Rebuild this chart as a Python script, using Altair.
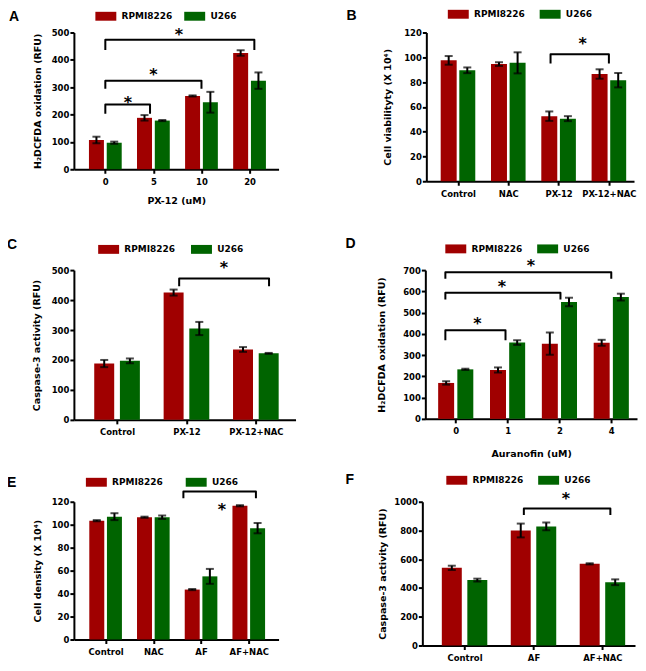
import json
import altair as alt
import pandas as pd

SERIES = ["RPMI8226", "U266"]
RED = "#A00000"
GREEN = "#006400"
FONT = "DejaVu Sans"
OFF = 0.185
LEG_SYMBOL = "M-2,-0.85H2V0.85H-2Z"

# ---------------- Panel A ----------------
a_labels = ["0", "5", "10", "20"]
a_rpmi = [107, 188, 268, 425]
a_rpmi_err = [12, 10, 2, 10]
a_u266 = [97, 178, 245, 324]
a_u266_err = [4, 2, 38, 30]
a_br_x1 = [0, 0, 0]
a_br_x2 = [0.93, 2.0, 3.1]
a_br_top = [237, 324, 473]
a_br_leg = [203, 294, 436]
a_star_x = [0.47, 1.0, 1.53]
a_star_y = [255, 360, 506]

# ---------------- Panel B ----------------
b_labels = ["Control", "NAC", "PX-12", "PX-12+NAC"]
b_rpmi = [97.5, 94.5, 52.5, 86.5]
b_rpmi_err = [3.5, 1.5, 3.8, 3.8]
b_u266 = [89.5, 95.5, 50.5, 81.5]
b_u266_err = [2.3, 8.5, 2, 5.8]
b_br_x1 = [1.84]
b_br_x2 = [3.0]
b_br_top = [102.4]
b_br_leg = [95]
b_star_x = [2.48]
b_star_y = [113.7]

# ---------------- Panel C ----------------
c_labels = ["Control", "PX-12", "PX-12+NAC"]
c_rpmi = [188, 425, 235]
c_rpmi_err = [12, 10, 8]
c_u266 = [197, 305, 222]
c_u266_err = [8, 22, 1.5]
c_br_x1 = [0.895]
c_br_x2 = [2.19]
c_br_top = [472]
c_br_leg = [446]
c_star_x = [1.54]
c_star_y = [519]

# ---------------- Panel D ----------------
d_labels = ["0", "1", "2", "4"]
d_rpmi = [169, 230, 354, 358]
d_rpmi_err = [8, 12, 52, 14]
d_u266 = [233, 359, 550, 573]
d_u266_err = [3, 11, 20, 16]
d_br_x1 = [-0.2, -0.2, -0.2]
d_br_x2 = [0.96, 2.02, 3.0]
d_br_top = [417, 594, 690]
d_br_leg = [370, 562, 659]
d_star_x = [0.42, 0.89, 1.45]
d_star_y = [464, 640, 739]

# ---------------- Panel E ----------------
e_labels = ["Control", "NAC", "AF", "AF+NAC"]
e_rpmi = [103.5, 106.5, 43.5, 116.5]
e_rpmi_err = [0.5, 0.5, 0.5, 0.5]
e_u266 = [107, 106.5, 55, 97]
e_u266_err = [3, 1.5, 6.5, 4.5]
e_br_x1 = [1.63]
e_br_x2 = [3.15]
e_br_top = [129]
e_br_leg = [123]
e_star_x = [2.44]
e_star_y = [116]

# ---------------- Panel F ----------------
f_labels = ["Control", "AF", "AF+NAC"]
f_rpmi = [540, 800, 568]
f_rpmi_err = [15, 48, 4]
f_u266 = [455, 828, 440]
f_u266_err = [10, 27, 20]
f_br_x1 = [0.86]
f_br_x2 = [2.115]
f_br_top = [953]
f_br_leg = [908]
f_star_x = [1.47]
f_star_y = [1049]


def panel(letter, labels, rpmi, rpmi_err, u266, u266_err,
          br_x1, br_x2, br_top, br_leg, star_x, star_y,
          ymax, ystep, ytitle, xtitle, xdom, width, height, bar_size,
          letter_x, letter_y, leg_x, leg_y, leg_colpad, ytitle_pad, xtitle_pad):
    n = len(labels)
    df = pd.DataFrame({
        "idx": list(range(n)) * 2,
        "series": [SERIES[0]] * n + [SERIES[1]] * n,
        "mean": rpmi + u266,
        "err": rpmi_err + u266_err,
    })
    base = alt.Chart(df).transform_calculate(
        xpos=f"datum.idx + (datum.series == '{SERIES[0]}' ? -{OFF} : {OFF})",
        lo="datum.mean - datum.err",
        hi="datum.mean + datum.err",
    )
    xscale = alt.Scale(domain=xdom, nice=False, zero=False)
    yscale = alt.Scale(domain=[0, ymax], nice=False, zero=True)
    xaxis_kw = dict(
        values=list(range(n)), tickCount=n,
        labelExpr=f"{json.dumps(labels)}[round(datum.value)]",
        grid=False, labelAngle=0, labelFlush=False, labelOverlap=False,
        minExtent=15, maxExtent=15,
    )
    if xtitle:
        xaxis = alt.Axis(title=xtitle, titlePadding=xtitle_pad, **xaxis_kw)
    else:
        xaxis = alt.Axis(title=None, **xaxis_kw)
    yvals = list(range(0, ymax + 1, ystep))
    yaxis = alt.Axis(
        title=ytitle, values=yvals, tickCount=len(yvals), grid=False, format="d",
        minExtent=24, maxExtent=24, titlePadding=ytitle_pad,
        labelFlush=False, labelOverlap=False,
    )
    legend = alt.Legend(
        orient="none", legendX=leg_x, legendY=leg_y, direction="horizontal",
        title=None, symbolType=LEG_SYMBOL, symbolSize=110, symbolStrokeWidth=0,
        symbolOpacity=1, labelFont=FONT, labelFontSize=9, labelFontWeight="bold",
        labelColor="black", labelOffset=10.25, columnPadding=leg_colpad, padding=0,
    )
    bars = base.mark_bar(size=bar_size).encode(
        x=alt.X("xpos:Q", scale=xscale, axis=xaxis),
        y=alt.Y("mean:Q", scale=yscale, axis=yaxis),
        color=alt.Color("series:N", scale=alt.Scale(domain=SERIES, range=[RED, GREEN]),
                        legend=legend),
    )
    rules = base.mark_rule(color="black", strokeWidth=2).encode(
        x="xpos:Q", y="lo:Q", y2="hi:Q")
    caps = base.transform_fold(["lo", "hi"], as_=["end", "val"]).mark_tick(
        orient="horizontal", size=8, thickness=2, color="black").encode(
        x="xpos:Q", y="val:Q")

    rows = []
    for i, (x1, x2, t, l) in enumerate(zip(br_x1, br_x2, br_top, br_leg)):
        for k, (bx, by) in enumerate([(x1, l), (x1, t), (x2, t), (x2, l)]):
            rows.append({"bid": i, "k": k, "bx": bx, "by": by})
    brackets = alt.Chart(pd.DataFrame(rows)).mark_line(
        color="black", strokeWidth=2, strokeJoin="round").encode(
        x="bx:Q", y="by:Q", detail="bid:N", order="k:Q")
    stars = alt.Chart(pd.DataFrame({"sx": star_x, "sy": star_y})).mark_text(
        text="*", font=FONT, fontSize=16, fontWeight="bold", dy=4, color="black").encode(
        x="sx:Q", y="sy:Q")
    letter_mark = alt.Chart(pd.DataFrame({"t": [letter]})).mark_text(
        align="left", baseline="top", font="Liberation Sans", fontSize=14,
        fontWeight="bold", color="black").encode(
        x=alt.value(letter_x), y=alt.value(letter_y), text="t:N")
    return alt.layer(bars, rules, caps, brackets, stars, letter_mark).properties(
        width=width, height=height)


A = panel("A", a_labels, a_rpmi, a_rpmi_err, a_u266, a_u266_err,
          a_br_x1, a_br_x2, a_br_top, a_br_leg, a_star_x, a_star_y,
          500, 100, "H\u2082DCFDA oxidation (RFU)", "PX-12 (uM)", [-0.55, 3.5], 205, 137, 15,
          -65, -22, 26.5, -22, 11, 7, 11)
B = panel("B", b_labels, b_rpmi, b_rpmi_err, b_u266, b_u266_err,
          b_br_x1, b_br_x2, b_br_top, b_br_leg, b_star_x, b_star_y,
          120, 20, "Cell viabilityty (X 10\u2074)", None, [-0.53, 3.4], 208, 149, 16,
          -80, -24, 26.5, -24, 14, 10, 11)
C = panel("C", c_labels, c_rpmi, c_rpmi_err, c_u266, c_u266_err,
          c_br_x1, c_br_x2, c_br_top, c_br_leg, c_star_x, c_star_y,
          500, 100, "Caspase-3 activity (RFU)", None, [-0.55, 2.5], 222, 150, 20,
          -67, -32, 29.3, -26.5, 15, 8, 11)
D = panel("D", d_labels, d_rpmi, d_rpmi_err, d_u266, d_u266_err,
          d_br_x1, d_br_x2, d_br_top, d_br_leg, d_star_x, d_star_y,
          700, 100, "H\u2082DCFDA oxidation (RFU)", "Auranofin (uM)", [-0.49, 3.4], 212, 149, 16,
          -80, -33, 25, -27, 14, 15, 15)
E = panel("E", e_labels, e_rpmi, e_rpmi_err, e_u266, e_u266_err,
          e_br_x1, e_br_x2, e_br_top, e_br_leg, e_star_x, e_star_y,
          120, 20, "Cell density (X 10\u2074)", None, [-0.56, 3.52], 205, 138, 15,
          -67, -26, 17, -25.25, 22, 7.5, 11)
F = panel("F", f_labels, f_rpmi, f_rpmi_err, f_u266, f_u266_err,
          f_br_x1, f_br_x2, f_br_top, f_br_leg, f_star_x, f_star_y,
          1000, 200, "Caspase-3 activity (RFU)", None, [-0.54, 2.4], 213, 144, 20,
          -77, -29, 29, -27.25, 14, 11, 11)


def indep(c):
    return c.resolve_scale(color="independent").resolve_legend(color="independent")


row1 = indep(alt.hconcat(A, B, spacing=66))
row2 = indep(alt.hconcat(C, D, spacing=48))
row3 = indep(alt.hconcat(E, F, spacing=65))
top = indep(alt.vconcat(row1, row2, spacing=31))
chart = indep(alt.vconcat(top, row3, spacing=13)).properties(
    padding={"left": -2, "top": -1, "right": 0, "bottom": 0}, background="white"
).configure_view(stroke="transparent").configure_axis(
    domainColor="black", domainWidth=2, tickColor="black", tickWidth=2, tickSize=4,
    labelFont=FONT, labelFontWeight="bold", labelColor="black",
    titleFont=FONT, titleFontSize=9.5, titleFontWeight="bold", titleColor="black",
).configure_axisX(labelPadding=4, labelFontSize=8.5).configure_axisY(labelPadding=1, labelFontSize=8.5)

chart.save("out.html", embed_options={"renderer": "svg", "actions": False})
